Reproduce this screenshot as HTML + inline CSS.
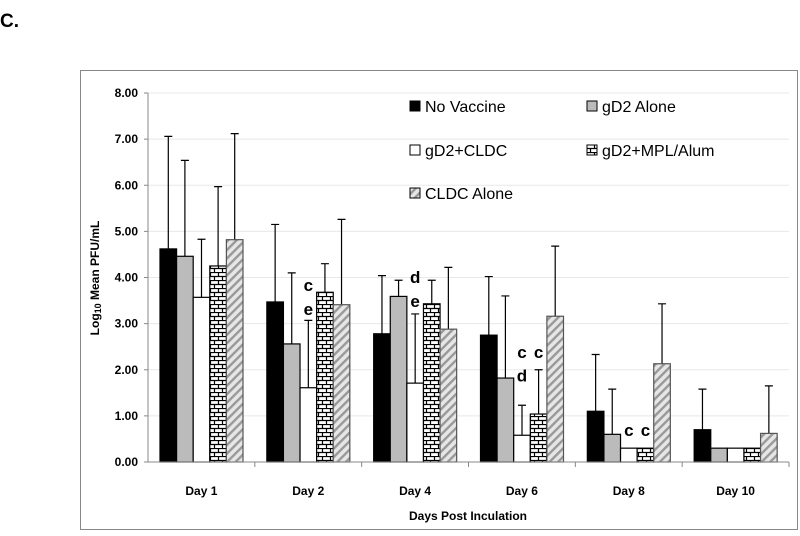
<!DOCTYPE html>
<html><head><meta charset="utf-8"><style>
body{margin:0;background:#fff;}
svg text{font-family:"Liberation Sans",Arial,sans-serif;}
</style></head><body>
<svg width="800" height="531" viewBox="0 0 800 531" xmlns="http://www.w3.org/2000/svg">
<defs>
<pattern id="brick" width="8" height="8" patternUnits="userSpaceOnUse">
<rect width="8" height="8" fill="#fff"/>
<path d="M0 0.5H8M0 4.5H8M2.5 0V4.5M6.5 4.5V8" stroke="#000" stroke-width="1.2"/>
</pattern>
<pattern id="hatch" width="6" height="6" patternUnits="userSpaceOnUse" patternTransform="rotate(45)">
<rect width="6" height="6" fill="#e6e6e6"/>
<rect width="2.4" height="6" fill="#999"/>
</pattern>
</defs>
<text x="0" y="27" font-size="19" font-weight="bold">C.</text>
<rect x="80.5" y="70.5" width="717" height="459" fill="none" stroke="#888"/>
<g id="grid"></g>
<g id="bars"></g>
<g id="axes"></g>
<g id="legend"></g>
<text x="468" y="520" font-size="12" font-weight="bold" text-anchor="middle">Days Post Inculation</text>
<text transform="translate(99,278) rotate(-90)" font-size="12" font-weight="bold" text-anchor="middle">Log<tspan font-size="9" dy="2">10</tspan><tspan dy="-2"> Mean PFU/mL</tspan></text>
</svg>
<script>
const categories=["Day 1","Day 2","Day 4","Day 6","Day 8","Day 10"];
const seriesNames=["No Vaccine","gD2 Alone","gD2+CLDC","gD2+MPL/Alum","CLDC Alone"];
const noVaccine=[4.62,3.47,2.78,2.75,1.10,0.70];
const gd2Alone=[4.46,2.56,3.59,1.82,0.60,0.30];
const gd2Cldc=[3.57,1.61,1.71,0.58,0.30,0.30];
const gd2MplAlum=[4.25,3.68,3.43,1.04,0.30,0.30];
const cldcAlone=[4.82,3.41,2.88,3.16,2.13,0.62];
const errNoVaccine=[7.06,5.15,4.04,4.02,2.33,1.58];
const errGd2Alone=[6.54,4.10,3.94,3.60,1.58,null];
const errGd2Cldc=[4.83,3.07,3.21,1.23,null,null];
const errGd2MplAlum=[5.97,4.30,3.94,2.00,null,null];
const errCldcAlone=[7.12,5.26,4.22,4.68,3.43,1.65];
const yTicks=[0,1,2,3,4,5,6,7,8];
const annotations=[[1,2,"c",3.71],[1,2,"e",3.19],[2,2,"d",3.88],[2,2,"e",3.36],[3,2,"c",2.26],[3,2,"d",1.74],[3,3,"c",2.26],[4,2,"c",0.56],[4,3,"c",0.56]];
const NS="http://www.w3.org/2000/svg";
const X0=148,X1=789,Y0=462,Y8=93;
const y=v=>Y0-(v/8)*(Y0-Y8);
const cw=(X1-X0)/categories.length;
const bw=16.6;
const bx=(c,s)=>X0+c*cw+12+s*bw;
function mk(t,a,p){const e=document.createElementNS(NS,t);for(const k in a)e.setAttribute(k,a[k]);p.appendChild(e);return e;}
const grid=document.getElementById('grid'),bars=document.getElementById('bars'),axes=document.getElementById('axes'),leg=document.getElementById('legend');
const fills=["#000","#bbb","#fff","url(#brick)","url(#hatch)"];
const vals=[noVaccine,gd2Alone,gd2Cldc,gd2MplAlum,cldcAlone];
const errs=[errNoVaccine,errGd2Alone,errGd2Cldc,errGd2MplAlum,errCldcAlone];
yTicks.forEach(t=>{
 if(t>0){const g=mk('line',{x1:X0,x2:X1,y1:y(t),y2:y(t),stroke:'#e8e8e8'},grid);
 
 }
 const tk=mk('line',{x1:X0-4,x2:X0,y1:y(t),y2:y(t),stroke:'#888'},axes);
 
 
 const l=mk('text',{x:X0-10,y:y(t)+4,'font-size':12,'font-weight':'bold','text-anchor':'end'},axes);
 l.textContent=t.toFixed(2);
 
 
});
const ya=mk('line',{x1:X0,x2:X0,y1:Y8,y2:Y0,stroke:'#888'},axes);


const xa=mk('line',{x1:X0,x2:X1,y1:Y0,y2:Y0,stroke:'#888'},axes);


categories.forEach((c,i)=>{
 const tk=mk('line',{x1:X0+(i+1)*cw,x2:X0+(i+1)*cw,y1:Y0,y2:Y0+5,stroke:'#888'},axes);
 
 
 const l=mk('text',{x:X0+(i+0.5)*cw,y:495,'font-size':12,'font-weight':'bold','text-anchor':'middle'},axes);
 l.textContent=c;
 
 
 vals.forEach((arr,s)=>{
  const e=errs[s][i];
  if(e!=null){const x=bx(i,s)+bw/2;
   const el=mk('path',{d:`M${x} ${y(arr[i])}V${y(e)}M${x-4} ${y(e)}H${x+4}`,stroke:'#000','stroke-width':1.2,fill:'none'},bars);
   
   }
  const r=mk('rect',{x:bx(i,s),y:y(arr[i]),width:bw,height:Y0-y(arr[i]),fill:fills[s],stroke:s==4?'#555':'#000','stroke-width':1.2},bars);
  
  
 });
});
annotations.forEach(([c,s,t,v])=>{
  const tx=mk('text',{x:bx(c,s)+bw/2,y:y(v),'font-size':17,'font-weight':'bold','text-anchor':'middle'},bars);
  tx.textContent=t;
  
  
});
const lpos=[[410,106],[587,106],[410,150],[587,150],[410,193]];
seriesNames.forEach((n,s)=>{
 const [lx,ly]=lpos[s];
 const r=mk('rect',{x:lx,y:ly-5,width:10,height:10,fill:fills[s],stroke:'#000'},leg);
 
 
 const t=mk('text',{x:lx+15,y:ly+6,'font-size':16},leg);
 t.textContent=n;
 
 
});
</script>
</body></html>
